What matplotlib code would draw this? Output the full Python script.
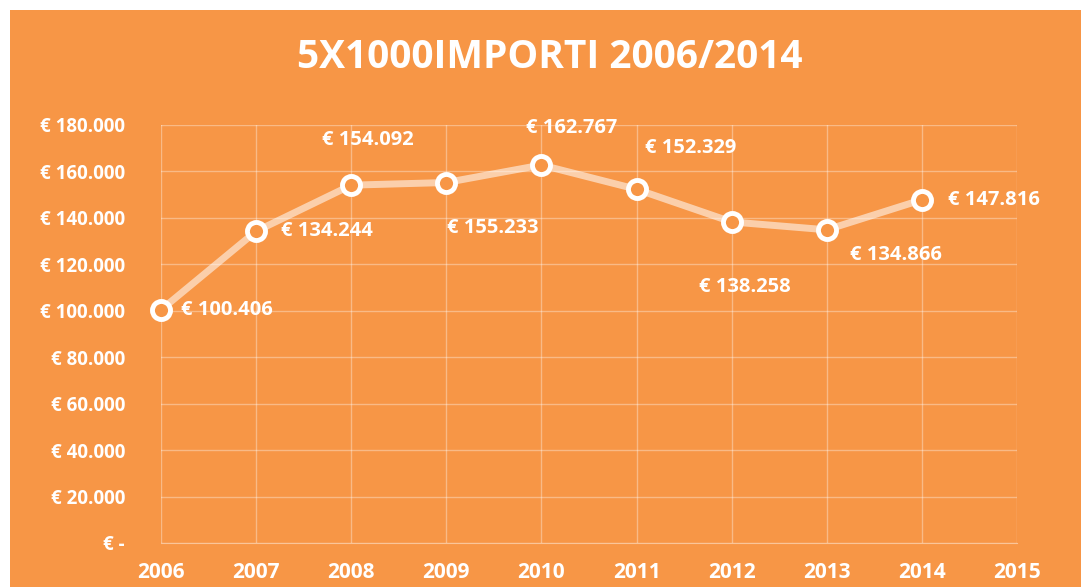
"""
5x1000 amounts per year, line chart on orange background.
"""

import matplotlib.pyplot as plt
from matplotlib.patches import Rectangle
from matplotlib.ticker import FuncFormatter, MultipleLocator

years = [2006, 2007, 2008, 2009, 2010, 2011, 2012, 2013, 2014]
amounts = [100406, 134244, 154092, 155233, 162767, 152329, 138258, 134866, 147816]

ORANGE = "#F79646"
FONT = "Open Sans"

# label placement (pixels from point, horizontal alignment)
label_offsets = [
    (20, 0, "left"), (25, 0, "left"), (17, 45, "center"),
    (46, -45, "center"), (30, 37, "center"), (54, 41, "center"),
    (13, -65, "center"), (69, -25, "center"), (26, 0, "left"),
]


def euro(v, pos=None):
    if v == 0:
        return "€ -"
    return "€ " + f"{v:,.0f}".replace(",", ".")


fig = plt.figure(figsize=(10.81, 5.87), dpi=100, facecolor="white")
bg = Rectangle((10 / 1081, 0), 1, 1 - 10 / 587, transform=fig.transFigure,
               facecolor=ORANGE, edgecolor="none", zorder=-10)
fig.add_artist(bg)
ax = fig.add_axes([161 / 1081, 1 - 543 / 587, (1017 - 161) / 1081, (543 - 125) / 587])
ax.set_facecolor(ORANGE)

ax.plot(years, amounts, color="white", alpha=0.55, linewidth=5,
        solid_capstyle="round", zorder=3, clip_on=False)
ax.plot(years, amounts, linestyle="none", marker="o", markersize=13,
        markerfacecolor=ORANGE, markeredgecolor="white", markeredgewidth=3.5,
        zorder=4, clip_on=False)

for x, y, (dx, dy, ha) in zip(years, amounts, label_offsets):
    ax.annotate(euro(y), (x, y), xytext=(dx, dy), textcoords="offset pixels",
                ha=ha, va="center", color="white", fontsize=14.5,
                fontweight="bold", family=FONT, zorder=5)

ax.set_xlim(2006, 2015)
ax.set_ylim(0, 180000)
ax.xaxis.set_major_locator(MultipleLocator(1))
ax.yaxis.set_major_locator(MultipleLocator(20000))
ax.yaxis.set_major_formatter(FuncFormatter(euro))
ax.grid(True, color="white", alpha=0.35, linewidth=1)
ax.set_axisbelow(True)
for side in ["top", "right", "left"]:
    ax.spines[side].set_visible(False)
ax.spines["bottom"].set_color((1, 1, 1, 0.45))
ax.tick_params(length=0, colors="white")
ax.tick_params(axis="y", pad=26)
ax.tick_params(axis="x", pad=14)
for lab in ax.get_yticklabels():
    lab.set_fontsize(13.5)
    lab.set_fontweight("bold")
    lab.set_family(FONT)
for lab in ax.get_xticklabels():
    lab.set_fontsize(15)
    lab.set_fontweight("bold")
    lab.set_family(FONT)

fig.text(550 / 1081, 1 - 58 / 587, "5X1000IMPORTI 2006/2014", ha="center",
         va="center", color="white", fontsize=28, fontweight="bold",
         family=FONT)

fig.savefig("out.png", dpi=100, facecolor=fig.get_facecolor())
